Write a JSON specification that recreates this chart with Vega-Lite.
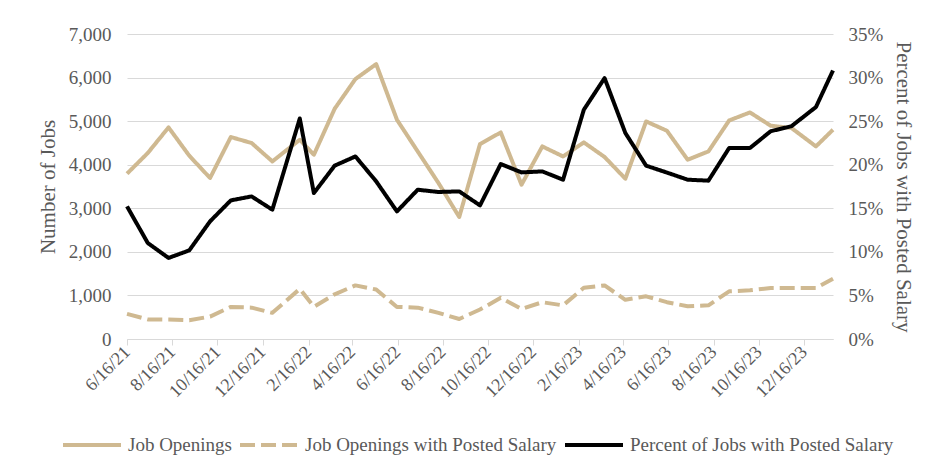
{
  "$schema": "https://vega.github.io/schema/vega-lite/v6.json",
  "width": 706,
  "height": 305,
  "autosize": {"type": "none"},
  "padding": {"left": 127, "top": 34, "right": 95, "bottom": 131},
  "background": "white",
  "config": {
    "font": "Liberation Serif",
    "view": {"stroke": null},
    "axis": {"labelFont": "Liberation Serif", "titleFont": "Liberation Serif", "labelColor": "#595959", "titleColor": "#595959", "labelFontSize": 19, "titleFontSize": 21, "titleFontWeight": "normal"},
    "legend": {"labelFont": "Liberation Serif", "labelFontSize": 19, "labelColor": "#595959", "labelLimit": 500, "symbolType": "stroke", "symbolSize": 3364, "symbolStrokeWidth": 4, "labelOffset": 5, "columnPadding": 0, "padding": 0}
  },
  "data": {
    "values": [
      {"date": "2021-06-16", "Job Openings": 3794, "Job Openings with Posted Salary": 576, "Percent of Jobs with Posted Salary": 0.1522},
      {"date": "2021-07-14", "Job Openings": 4268, "Job Openings with Posted Salary": 450, "Percent of Jobs with Posted Salary": 0.1102},
      {"date": "2021-08-11", "Job Openings": 4856, "Job Openings with Posted Salary": 445, "Percent of Jobs with Posted Salary": 0.0930},
      {"date": "2021-09-08", "Job Openings": 4206, "Job Openings with Posted Salary": 429, "Percent of Jobs with Posted Salary": 0.1017},
      {"date": "2021-10-06", "Job Openings": 3695, "Job Openings with Posted Salary": 515, "Percent of Jobs with Posted Salary": 0.1350},
      {"date": "2021-11-03", "Job Openings": 4635, "Job Openings with Posted Salary": 736, "Percent of Jobs with Posted Salary": 0.1591},
      {"date": "2021-12-01", "Job Openings": 4498, "Job Openings with Posted Salary": 720, "Percent of Jobs with Posted Salary": 0.1636},
      {"date": "2021-12-29", "Job Openings": 4076, "Job Openings with Posted Salary": 600, "Percent of Jobs with Posted Salary": 0.1484},
      {"date": "2022-02-04", "Job Openings": 4573, "Job Openings with Posted Salary": 1150, "Percent of Jobs with Posted Salary": 0.2530},
      {"date": "2022-02-23", "Job Openings": 4229, "Job Openings with Posted Salary": 740, "Percent of Jobs with Posted Salary": 0.1675},
      {"date": "2022-03-23", "Job Openings": 5284, "Job Openings with Posted Salary": 1025, "Percent of Jobs with Posted Salary": 0.1989},
      {"date": "2022-04-20", "Job Openings": 5966, "Job Openings with Posted Salary": 1230, "Percent of Jobs with Posted Salary": 0.2095},
      {"date": "2022-05-18", "Job Openings": 6310, "Job Openings with Posted Salary": 1135, "Percent of Jobs with Posted Salary": 0.1809},
      {"date": "2022-06-15", "Job Openings": 5032, "Job Openings with Posted Salary": 736, "Percent of Jobs with Posted Salary": 0.1464},
      {"date": "2022-07-13", "Job Openings": 4305, "Job Openings with Posted Salary": 720, "Percent of Jobs with Posted Salary": 0.1713},
      {"date": "2022-08-10", "Job Openings": 3580, "Job Openings with Posted Salary": 600, "Percent of Jobs with Posted Salary": 0.1687},
      {"date": "2022-09-07", "Job Openings": 2800, "Job Openings with Posted Salary": 460, "Percent of Jobs with Posted Salary": 0.1694},
      {"date": "2022-10-05", "Job Openings": 4475, "Job Openings with Posted Salary": 676, "Percent of Jobs with Posted Salary": 0.1533},
      {"date": "2022-11-02", "Job Openings": 4741, "Job Openings with Posted Salary": 945, "Percent of Jobs with Posted Salary": 0.2008},
      {"date": "2022-11-30", "Job Openings": 3541, "Job Openings with Posted Salary": 688, "Percent of Jobs with Posted Salary": 0.1912},
      {"date": "2022-12-28", "Job Openings": 4420, "Job Openings with Posted Salary": 844, "Percent of Jobs with Posted Salary": 0.1923},
      {"date": "2023-01-25", "Job Openings": 4190, "Job Openings with Posted Salary": 772, "Percent of Jobs with Posted Salary": 0.1828},
      {"date": "2023-02-22", "Job Openings": 4512, "Job Openings with Posted Salary": 1175, "Percent of Jobs with Posted Salary": 0.2631},
      {"date": "2023-03-22", "Job Openings": 4177, "Job Openings with Posted Salary": 1230, "Percent of Jobs with Posted Salary": 0.2994},
      {"date": "2023-04-19", "Job Openings": 3679, "Job Openings with Posted Salary": 900, "Percent of Jobs with Posted Salary": 0.2364},
      {"date": "2023-05-17", "Job Openings": 4993, "Job Openings with Posted Salary": 980, "Percent of Jobs with Posted Salary": 0.1989},
      {"date": "2023-06-14", "Job Openings": 4780, "Job Openings with Posted Salary": 845, "Percent of Jobs with Posted Salary": 0.1910},
      {"date": "2023-07-12", "Job Openings": 4115, "Job Openings with Posted Salary": 752, "Percent of Jobs with Posted Salary": 0.1828},
      {"date": "2023-08-09", "Job Openings": 4305, "Job Openings with Posted Salary": 773, "Percent of Jobs with Posted Salary": 0.1817},
      {"date": "2023-09-06", "Job Openings": 5016, "Job Openings with Posted Salary": 1094, "Percent of Jobs with Posted Salary": 0.2192},
      {"date": "2023-10-04", "Job Openings": 5200, "Job Openings with Posted Salary": 1117, "Percent of Jobs with Posted Salary": 0.2192},
      {"date": "2023-11-01", "Job Openings": 4895, "Job Openings with Posted Salary": 1172, "Percent of Jobs with Posted Salary": 0.2384},
      {"date": "2023-11-29", "Job Openings": 4842, "Job Openings with Posted Salary": 1172, "Percent of Jobs with Posted Salary": 0.2442},
      {"date": "2024-01-01", "Job Openings": 4420, "Job Openings with Posted Salary": 1172, "Percent of Jobs with Posted Salary": 0.2662},
      {"date": "2024-01-24", "Job Openings": 4803, "Job Openings with Posted Salary": 1385, "Percent of Jobs with Posted Salary": 0.3081}
    ],
    "format": {"parse": {"date": "utc:'%Y-%m-%d'"}}
  },
  "encoding": {
    "x": {
      "field": "date",
      "type": "temporal",
      "scale": {"type": "utc", "domain": [{"year": 2021, "month": 6, "date": 16, "utc": true}, {"year": 2024, "month": 1, "date": 24, "utc": true}]},
      "axis": {
        "title": null,
        "values": [
          {"year": 2021, "month": 6, "date": 16, "utc": true},
          {"year": 2021, "month": 8, "date": 16, "utc": true},
          {"year": 2021, "month": 10, "date": 16, "utc": true},
          {"year": 2021, "month": 12, "date": 16, "utc": true},
          {"year": 2022, "month": 2, "date": 16, "utc": true},
          {"year": 2022, "month": 4, "date": 16, "utc": true},
          {"year": 2022, "month": 6, "date": 16, "utc": true},
          {"year": 2022, "month": 8, "date": 16, "utc": true},
          {"year": 2022, "month": 10, "date": 16, "utc": true},
          {"year": 2022, "month": 12, "date": 16, "utc": true},
          {"year": 2023, "month": 2, "date": 16, "utc": true},
          {"year": 2023, "month": 4, "date": 16, "utc": true},
          {"year": 2023, "month": 6, "date": 16, "utc": true},
          {"year": 2023, "month": 8, "date": 16, "utc": true},
          {"year": 2023, "month": 10, "date": 16, "utc": true},
          {"year": 2023, "month": 12, "date": 16, "utc": true}
        ],
        "labelExpr": "utcFormat(datum.value, '%-m/%-d/%y')",
        "labelFont": "Liberation Serif",
        "labelAngle": -45,
        "labelAlign": "right",
        "labelBaseline": "middle",
        "labelPadding": 4,
        "labelFontSize": 18,
        "labelOverlap": false,
        "grid": false,
        "domainColor": "#D9D9D9",
        "domainWidth": 1,
        "tickColor": "#D9D9D9",
        "tickSize": 6,
        "tickWidth": 1
      }
    }
  },
  "layer": [
    {
      "transform": [{"fold": ["Job Openings", "Job Openings with Posted Salary"], "as": ["series", "value"]}],
      "mark": {"type": "line", "strokeWidth": 4, "strokeJoin": "round"},
      "encoding": {
        "y": {
          "field": "value",
          "type": "quantitative",
          "scale": {"domain": [0, 7000], "nice": false},
          "axis": {"title": "Number of Jobs", "values": [0, 1000, 2000, 3000, 4000, 5000, 6000, 7000], "format": ",d", "labelFont": "Liberation Serif", "grid": true, "gridColor": "#D9D9D9", "gridWidth": 1, "domain": false, "ticks": false, "labelPadding": 16, "titlePadding": 10}
        },
        "color": {
          "field": "series",
          "type": "nominal",
          "scale": {"domain": ["Job Openings", "Job Openings with Posted Salary", "Percent of Jobs with Posted Salary"], "range": ["#CFB991", "#CFB991", "#000000"]},
          "legend": {"title": null, "orient": "none", "direction": "horizontal", "legendX": -66, "legendY": 380}
        },
        "strokeDash": {
          "field": "series",
          "type": "nominal",
          "scale": {"domain": ["Job Openings", "Job Openings with Posted Salary", "Percent of Jobs with Posted Salary"], "range": [[1, 0], [15, 6], [1, 0]]},
          "legend": {"title": null, "orient": "none", "direction": "horizontal", "legendX": -66, "legendY": 380}
        }
      }
    },
    {
      "transform": [{"fold": ["Percent of Jobs with Posted Salary"], "as": ["series", "value"]}],
      "mark": {"type": "line", "strokeWidth": 4, "strokeJoin": "round"},
      "encoding": {
        "y": {
          "field": "value",
          "type": "quantitative",
          "scale": {"domain": [0, 0.35], "nice": false},
          "axis": {"orient": "right", "title": "Percent of Jobs with Posted Salary", "values": [0, 0.05, 0.1, 0.15, 0.2, 0.25, 0.3, 0.35], "format": ".0%", "labelFont": "Liberation Serif", "grid": false, "domain": false, "ticks": false, "labelPadding": 15, "titlePadding": 10}
        },
        "color": {
          "field": "series",
          "type": "nominal",
          "scale": {"domain": ["Job Openings", "Job Openings with Posted Salary", "Percent of Jobs with Posted Salary"], "range": ["#CFB991", "#CFB991", "#000000"]},
          "legend": {"title": null, "orient": "none", "direction": "horizontal", "legendX": -66, "legendY": 380}
        },
        "strokeDash": {
          "field": "series",
          "type": "nominal",
          "scale": {"domain": ["Job Openings", "Job Openings with Posted Salary", "Percent of Jobs with Posted Salary"], "range": [[1, 0], [15, 6], [1, 0]]},
          "legend": {"title": null, "orient": "none", "direction": "horizontal", "legendX": -66, "legendY": 380}
        }
      }
    }
  ],
  "resolve": {"scale": {"y": "independent"}}
}
